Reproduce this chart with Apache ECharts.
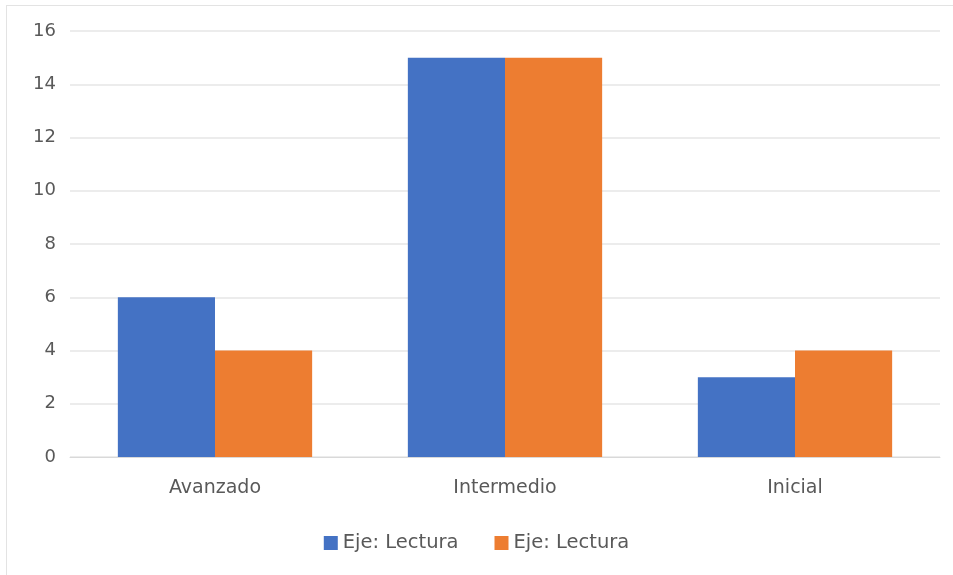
<!DOCTYPE html>
<html>
<head>
<meta charset="utf-8">
<script src="https://cdn.jsdelivr.net/npm/echarts@6/dist/echarts.min.js"></script>
<style>
  html, body { margin: 0; padding: 0; background: #fff; }
  #frame { position: absolute; left: 6px; top: 5px; width: 960px; height: 580px; border: 1px solid #e3e3e3; }
  #chart { position: absolute; left: 0; top: 0; width: 953px; height: 575px; }
</style>
</head>
<body>
<div id="frame"></div>
<div id="chart"></div>
<script>
// niveles de lectura
const categories = ["Avanzado", "Intermedio", "Inicial"];
const seriesNames = ["Eje: Lectura", "Eje: Lectura"];
const serieA = [6, 15, 3];
const serieB = [4, 15, 4];
const colors = ["#4472C4", "#ED7D31"];

const chart = echarts.init(document.getElementById("chart"));
const font = "'DejaVu Sans', sans-serif";

chart.setOption({
  animation: false,
  textStyle: { fontFamily: font },
  grid: { left: 70, right: 13, top: 31, bottom: 118 },
  legend: {
    bottom: 17,
    left: "center",
    itemWidth: 14,
    itemHeight: 14,
    itemGap: 36,
    icon: "rect",
    textStyle: { color: "#595959", fontSize: 19.5, fontFamily: font },
    data: [
      { name: "a", itemStyle: { color: colors[0] } },
      { name: "b", itemStyle: { color: colors[1] } }
    ],
    formatter: function (n) { return n === "a" ? seriesNames[0] : seriesNames[1]; }
  },
  xAxis: {
    type: "category",
    data: categories,
    axisLine: { lineStyle: { color: "#d9d9d9" } },
    axisTick: { show: false },
    axisLabel: { color: "#595959", fontSize: 19, margin: 22 }
  },
  yAxis: {
    type: "value",
    min: 0,
    max: 16,
    interval: 2,
    axisLine: { show: false },
    axisTick: { show: false },
    axisLabel: { color: "#595959", fontSize: 18, margin: 14 },
    splitLine: { lineStyle: { color: "#e6e6e6", width: 1.5 } }
  },
  series: [
    { name: "a", type: "bar", data: serieA, itemStyle: { color: colors[0] }, barGap: "0%", barCategoryGap: "33%" },
    { name: "b", type: "bar", data: serieB, itemStyle: { color: colors[1] }, barGap: "0%", barCategoryGap: "33%" }
  ]
});
</script>
</body>
</html>
